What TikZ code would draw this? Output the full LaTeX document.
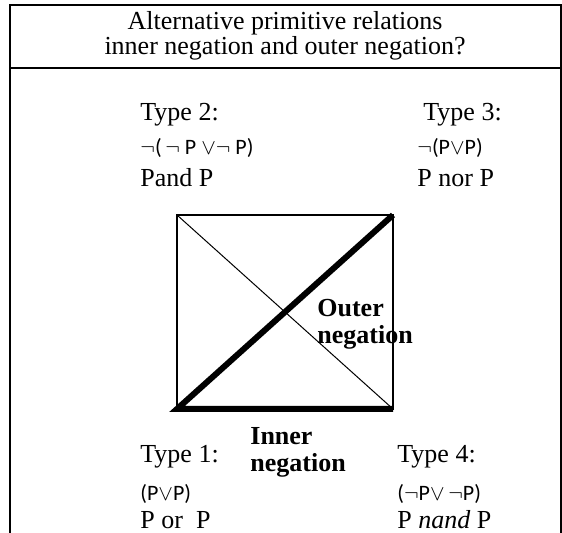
\documentclass[tikz,border=0pt]{standalone}
\usepackage{fontspec}
\setmainfont{Liberation Serif}
\newfontfamily\formfont{Carlito}
\begin{document}
\begin{tikzpicture}[x=0.5pt,y=-0.5pt,
  txt/.style={anchor=west,inner sep=0pt,font=\fontsize{13}{15}\selectfont},
  frm/.style={anchor=west,inner sep=0pt,font=\formfont\fontsize{11}{13}\selectfont},
  lbl/.style={anchor=west,inner sep=0pt,align=left,font=\fontsize{13}{13.5}\selectfont\bfseries}]
\useasboundingbox (0,0) rectangle (562,533);
\draw[line width=1pt] (10,533) -- (10,5) -- (561,5) -- (561,533);
\draw[line width=1pt] (10,68) -- (561,68);
\node[inner sep=0pt,font=\fontsize{13}{15}\selectfont] (title1) at (285,23) {Alternative primitive relations};
\node[inner sep=0pt,font=\fontsize{13}{15}\selectfont] (title2) at (285,48) {inner negation and outer negation?};
% square of opposition
\coordinate (sw) at (177,409);
\coordinate (se) at (393,409);
\coordinate (nw) at (177,215);
\coordinate (ne) at (393,215);
\draw[line width=0.75pt] (sw) rectangle (ne);
\draw[line width=0.5pt] (nw) -- (se);
\draw[line width=3pt] (se) -- (sw) -- (ne);
\node[lbl] (outer) at (317,324) {Outer\\negation};
\node[lbl] (inner) at (250,452) {Inner\\negation};
% the four types
\node[txt] (t2a) at (140,115) {Type 2:};
\node[frm] (t2b) at (140,148) {$\neg$(\,$\neg$ P $\vee\neg$ P)};
\node[txt] (t2c) at (140,178) {Pand P};
\node[txt] (t3a) at (423,115) {Type 3:};
\node[frm] (t3b) at (417,148) {$\neg$(P$\vee$P)};
\node[txt] (t3c) at (417,178) {P nor P};
\node[txt] (t1a) at (140,457) {Type 1:};
\node[frm] (t1b) at (140,494) {(P$\vee$P)};
\node[txt] (t1c) at (140,520) {P or\ \ P};
\node[txt] (t4a) at (397,457) {Type 4:};
\node[frm] (t4b) at (397,494) {($\neg$P$\vee\,\neg$P)};
\node[txt] (t4c) at (397,520) {P \textit{nand} P};
\end{tikzpicture}
\end{document}
